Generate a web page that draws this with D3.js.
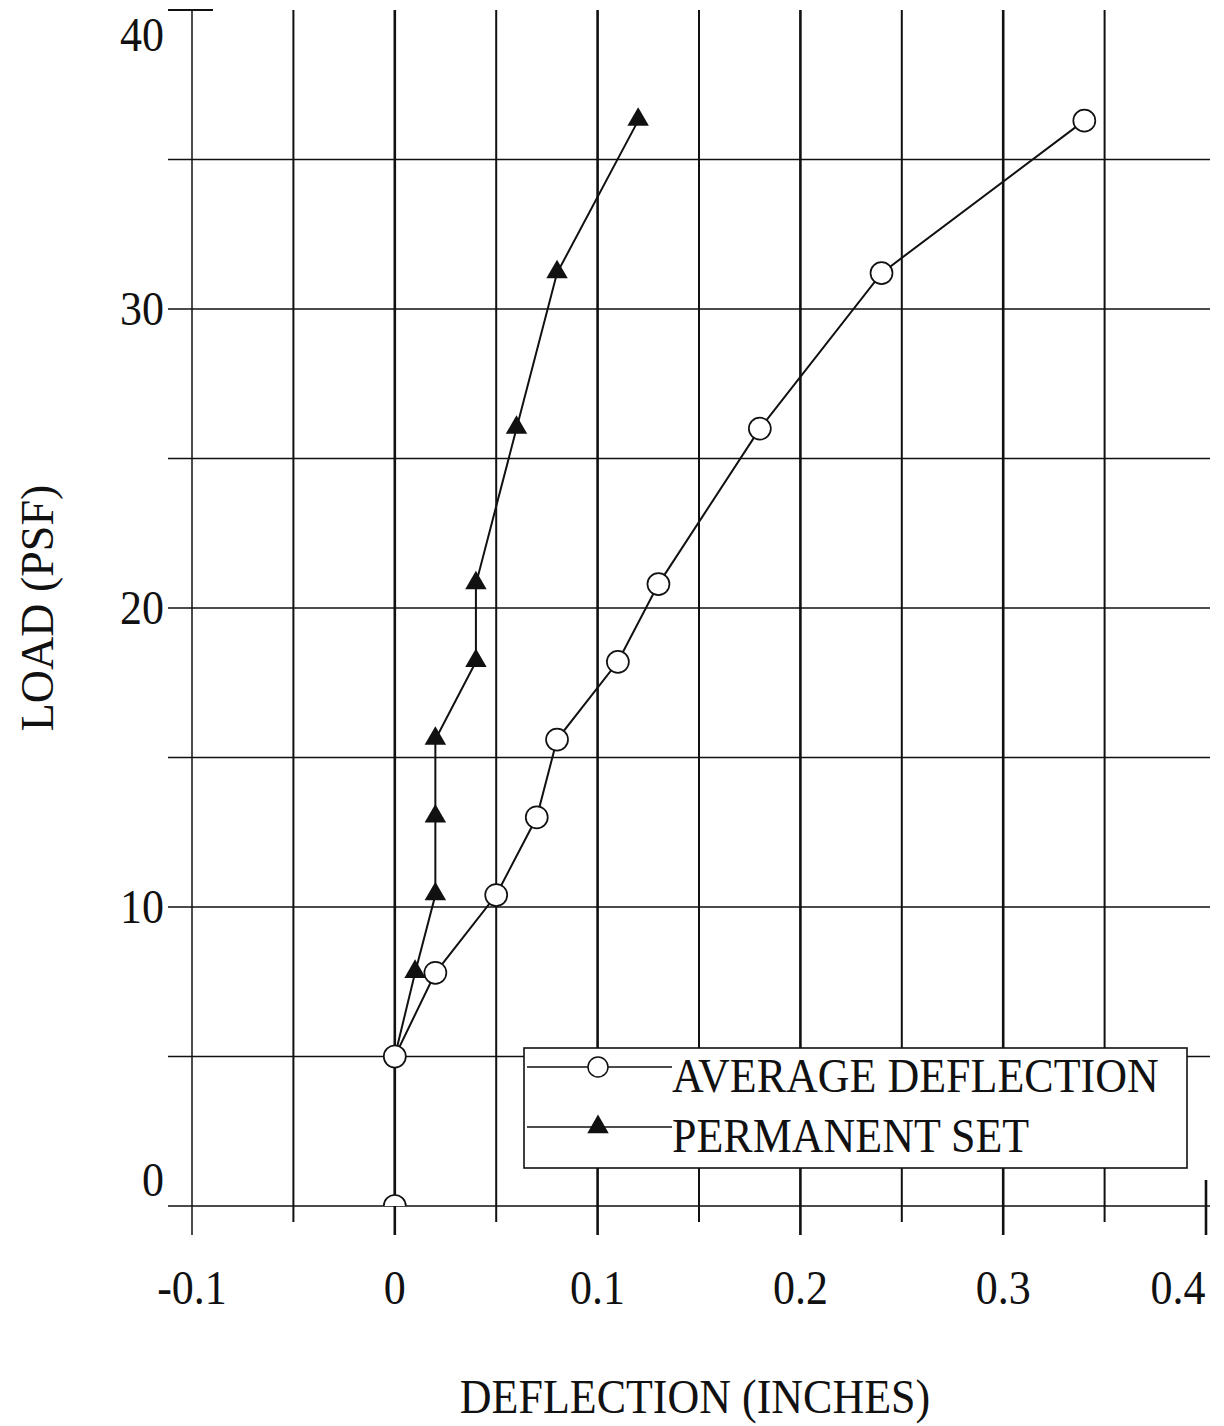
<!DOCTYPE html>
<html>
<head>
<meta charset="utf-8">
<script src="https://cdn.jsdelivr.net/npm/d3@7"></script>
<style>
  body { margin: 0; background: #fff; }
  text { font-family: "Liberation Serif", "Times New Roman", serif; fill: #111; }
</style>
</head>
<body>
<svg id="chart" width="1224" height="1426"></svg>
<script>
// deflection (in) vs load (psf)
const avgDeflection = [0, 0, 0.02, 0.05, 0.07, 0.08, 0.11, 0.13, 0.18, 0.24, 0.34]
const avgLoad = [0, 5, 7.8, 10.4, 13, 15.6, 18.2, 20.8, 26, 31.2, 36.3]
const permSet = [0, 0.01, 0.02, 0.02, 0.02, 0.04, 0.04, 0.06, 0.08, 0.12]
const permLoad = [5, 7.8, 10.4, 13, 15.6, 18.2, 20.8, 26, 31.2, 36.3]

const xTicks = [-0.1, -0.05, 0, 0.05, 0.1, 0.15, 0.2, 0.25, 0.3, 0.35, 0.4]
const xLabels = ['-0.1', '0', '0.1', '0.2', '0.3', '0.4']
const yTicks = [0, 5, 10, 15, 20, 25, 30, 35]
const yLabels = ['0', '10', '20', '30', '40']
const legendNames = ['AVERAGE DEFLECTION', 'PERMANENT SET']

const svg = d3.select('#chart')
const x = d3.scaleLinear().domain([-0.1, 0.4]).range([192, 1206])
const y = d3.scaleLinear().domain([0, 40]).range([1206, 10])

// the scanned text is a bit taller than plain Times
const stretch = 1.12
const place = (px, py) => `translate(${px},${py}) scale(1,${stretch})`

// horizontal grid
svg.append('g').selectAll('line')
  .data(yTicks)
  .enter().append('line')
  .attr('x1', 168).attr('x2', 1210)
  .attr('y1', d => y(d)).attr('y2', d => y(d))
  .attr('stroke', '#111').attr('stroke-width', 1.6)

// short top tick at 40
svg.append('line')
  .attr('x1', 168).attr('x2', 213)
  .attr('y1', y(40)).attr('y2', y(40))
  .attr('stroke', '#111').attr('stroke-width', 2)

// vertical grid (0.4 only shows as a tick)
const isMajor = d => Math.abs(Math.round(d * 10) - d * 10) < 1e-6
svg.append('g').selectAll('line')
  .data(xTicks)
  .enter().append('line')
  .attr('x1', d => x(d)).attr('x2', d => x(d))
  .attr('y1', d => d === 0.4 ? y(0) - 26 : y(40))
  .attr('y2', d => isMajor(d) ? 1235 : 1222)
  .attr('stroke', '#111')
  .attr('stroke-width', d => d === -0.1 ? 1.5 : (isMajor(d) ? 2.6 : 2))

// tick labels, clamped inside the frame like the original
svg.append('g').selectAll('text')
  .data(xLabels)
  .enter().append('text')
  .attr('transform', d => place(Math.min(x(+d), 1206 - 28), 1304))
  .attr('text-anchor', 'middle')
  .attr('font-size', 44)
  .text(d => d)

svg.append('g').selectAll('text')
  .data(yLabels)
  .enter().append('text')
  .attr('transform', d => place(164, Math.min(Math.max(y(+d), y(40) + 25), y(0) - 26) + 16))
  .attr('text-anchor', 'end')
  .attr('font-size', 44)
  .text(d => d)

// axis titles
svg.append('text')
  .attr('transform', place(695, 1413))
  .attr('text-anchor', 'middle')
  .attr('font-size', 44)
  .text('DEFLECTION (INCHES)')

svg.append('text')
  .attr('transform', 'translate(53,608) rotate(-90)')
  .attr('text-anchor', 'middle')
  .attr('font-size', 46)
  .text('LOAD (PSF)')

// plot clip
svg.append('clipPath').attr('id', 'plot-clip')
  .append('rect')
  .attr('x', x(-0.1)).attr('y', 0)
  .attr('width', x(0.4) - x(-0.1)).attr('height', y(0))

const plot = svg.append('g').attr('clip-path', 'url(#plot-clip)')
const line = d3.line().x(d => x(d[0])).y(d => y(d[1]))
const avgPts = avgDeflection.map((d, i) => [d, avgLoad[i]])
const permPts = permSet.map((d, i) => [d, permLoad[i]])

plot.append('path').datum(avgPts)
  .attr('d', line).attr('fill', 'none')
  .attr('stroke', '#111').attr('stroke-width', 2)
plot.append('path').datum(permPts)
  .attr('d', line).attr('fill', 'none')
  .attr('stroke', '#111').attr('stroke-width', 2)

const tri = d3.symbol().type(d3.symbolTriangle).size(200)

plot.selectAll('.perm-pt')
  .data(permPts)
  .enter().append('path')
  .attr('class', 'perm-pt')
  .attr('transform', d => `translate(${x(d[0])},${y(d[1]) - 1})`)
  .attr('d', tri)
  .attr('fill', '#111')

plot.selectAll('.avg-pt')
  .data(avgPts)
  .enter().append('circle')
  .attr('class', 'avg-pt')
  .attr('cx', d => x(d[0])).attr('cy', d => y(d[1]))
  .attr('r', 11)
  .attr('fill', '#fff').attr('stroke', '#111').attr('stroke-width', 1.7)

// legend
const legend = svg.append('g')
legend.append('rect')
  .attr('x', 524).attr('y', 1048)
  .attr('width', 663).attr('height', 120)
  .attr('fill', '#fff').attr('stroke', '#111').attr('stroke-width', 1.6)

const legRows = [1067, 1127]
legRows.forEach((ly, i) => {
  legend.append('line')
    .attr('x1', 527).attr('x2', 672)
    .attr('y1', ly).attr('y2', ly)
    .attr('stroke', '#111').attr('stroke-width', 1.5)
  if (i === 0) {
    legend.append('circle')
      .attr('cx', 598).attr('cy', ly).attr('r', 10)
      .attr('fill', '#fff').attr('stroke', '#111').attr('stroke-width', 1.5)
  } else {
    legend.append('path')
      .attr('transform', `translate(598,${ly})`)
      .attr('d', tri).attr('fill', '#111')
  }
  legend.append('text')
    .attr('transform', place(672, ly + 25))
    .attr('font-size', 44)
    .text(legendNames[i])
})
</script>
</body>
</html>
